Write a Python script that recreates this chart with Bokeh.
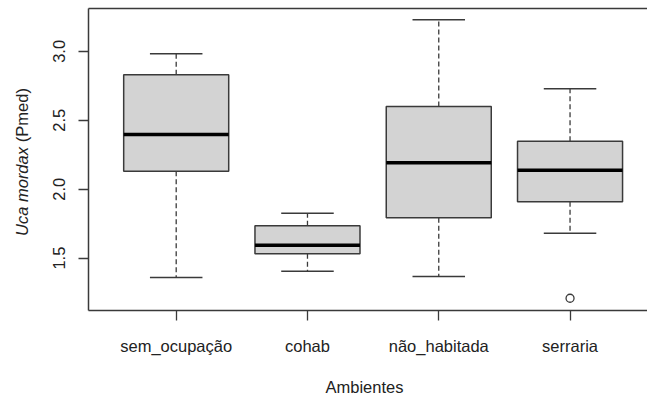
import math
from bokeh.plotting import figure
from bokeh.models import ColumnDataSource, FixedTicker, LinearAxis, Range1d
from bokeh.layouts import row, column
from bokeh.core.properties import value
from bokeh.embed import file_html
from bokeh.resources import INLINE

# ---- data ----
categories = ["sem_ocupação", "cohab", "não_habitada", "serraria"]
lower_whisker = [1.359, 1.405, 1.367, 1.681]
q1 = [2.131, 1.531, 1.792, 1.909]
median = [2.397, 1.594, 2.192, 2.138]
q3 = [2.831, 1.734, 2.600, 2.348]
upper_whisker = [2.983, 1.826, 3.229, 2.729]
outlier_group = [4]
outlier_value = [1.209]
y_ticks = [1.5, 2.0, 2.5, 3.0]
y_tick_labels = ["1.5", "2.0", "2.5", "3.0"]
y_title_italic = "Uca mordax"
y_title_rest = "(Pmed)"
x_title = "Ambientes"

xpos = list(range(1, len(categories) + 1))
BOXW = 0.8
CAPW = 0.4

src = ColumnDataSource(dict(
    x=xpos, low=lower_whisker, q1=q1, med=median, q3=q3, up=upper_whisker,
    xl=[v - BOXW / 2 for v in xpos], xr=[v + BOXW / 2 for v in xpos],
    cl=[v - CAPW / 2 for v in xpos], cr=[v + CAPW / 2 for v in xpos],
))

FONT = "Liberation Sans"
FS = "16.5px"
TXT = "#222222"
LINE = "#3a3a3a"

W, H = 647, 396
BOTTOM_STRIP = 30
MAIN_H = H - BOTTOM_STRIP
FRAME_TOP, FRAME_BOTTOM = 8, 310
LEFTW = 44

yr = Range1d(1.120, 3.311)

p = figure(width=W - LEFTW, height=MAIN_H, output_backend="svg", toolbar_location=None,
           x_range=Range1d(0.332, 4.59), y_range=yr,
           x_axis_location=None, y_axis_location=None,
           min_border_left=88 - LEFTW, min_border_right=0, min_border_top=FRAME_TOP,
           min_border_bottom=MAIN_H - FRAME_BOTTOM)
p.outline_line_color = None
p.grid.visible = False

# whiskers (dashed)
p.segment(x0="x", y0="q3", x1="x", y1="up", source=src, line_color=LINE,
          line_width=1.3, line_dash="5 3")
p.segment(x0="x", y0="q1", x1="x", y1="low", source=src, line_color=LINE,
          line_width=1.3, line_dash="5 3")
# caps
p.segment(x0="cl", y0="up", x1="cr", y1="up", source=src, line_color=LINE, line_width=1.5)
p.segment(x0="cl", y0="low", x1="cr", y1="low", source=src, line_color=LINE, line_width=1.5)
# boxes
p.quad(left="xl", right="xr", bottom="q1", top="q3", source=src,
       fill_color="#d3d3d3", line_color=LINE, line_width=1.5)
# medians
p.segment(x0="xl", y0="med", x1="xr", y1="med", source=src, line_color="black", line_width=3.5)
# outliers
p.scatter(x=outlier_group, y=outlier_value, marker="circle", size=8,
          fill_color=None, line_color=LINE, line_width=1.3)

# axes
xa = LinearAxis(ticker=FixedTicker(ticks=xpos),
                major_label_overrides={x: c for x, c in zip(xpos, categories)})
ya = LinearAxis(ticker=FixedTicker(ticks=y_ticks),
                major_label_overrides={t: l for t, l in zip(y_ticks, y_tick_labels)},
                major_label_orientation="vertical")
for ax in (xa, ya):
    ax.axis_line_color = LINE
    ax.axis_line_width = 1.5
    ax.major_tick_line_color = LINE
    ax.major_tick_line_width = 1.3
    ax.major_tick_in = 0
    ax.major_tick_out = 10
    ax.minor_tick_line_color = None
    ax.major_label_text_font = FONT
    ax.major_label_text_font_size = FS
    ax.major_label_text_color = TXT
xa.major_label_standoff = 16
ya.major_label_standoff = 13
p.add_layout(xa, "below")
p.add_layout(ya, "left")

top = LinearAxis(ticker=FixedTicker(ticks=[]), axis_line_color=LINE, axis_line_width=1.5,
                 major_tick_line_color=None, minor_tick_line_color=None,
                 major_label_standoff=0, major_tick_out=0, major_tick_in=0,
                 major_label_text_font_size="0px")
p.add_layout(top, "above")

# left strip holding the y-axis title (italic species name + plain unit)
q = figure(width=LEFTW, height=MAIN_H, output_backend="svg", toolbar_location=None,
           x_range=Range1d(0, LEFTW), y_range=yr,
           x_axis_location=None, y_axis_location=None,
           min_border_left=0, min_border_right=0, min_border_top=FRAME_TOP,
           min_border_bottom=MAIN_H - FRAME_BOTTOM)
q.outline_line_color = None
q.grid.visible = False
q.text(x=[21.7], y=[2.306], text=[y_title_italic], angle=math.pi / 2,
       text_align="right", text_baseline="middle", text_font=value(FONT),
       text_font_size=FS, text_font_style="italic", text_color=TXT)
q.text(x=[21.7], y=[2.341], text=[y_title_rest], angle=math.pi / 2,
       text_align="left", text_baseline="middle", text_font=value(FONT),
       text_font_size=FS, text_color=TXT)

# bottom strip holding the x-axis title
b = figure(width=W, height=BOTTOM_STRIP, output_backend="svg", toolbar_location=None,
           x_range=Range1d(0, W), y_range=Range1d(0, BOTTOM_STRIP),
           x_axis_location=None, y_axis_location=None,
           min_border_left=0, min_border_right=0, min_border_top=0, min_border_bottom=0)
b.outline_line_color = None
b.grid.visible = False
b.text(x=[364], y=[10], text=[x_title], text_align="center", text_baseline="alphabetic",
       text_font=value(FONT), text_font_size=FS, text_color=TXT)

layout = column(row(q, p, spacing=0), b, spacing=0)
open("out.html", "w").write(file_html(layout, INLINE))
